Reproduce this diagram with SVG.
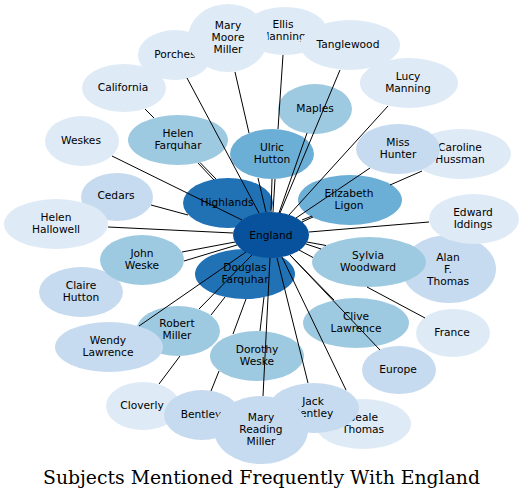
<svg xmlns="http://www.w3.org/2000/svg" width="523" height="499" viewBox="0 0 523 499">
<style>
.n text{font-family:"DejaVu Sans","Liberation Sans",sans-serif;font-size:10.67px;text-anchor:middle;fill:#000}
.c0{fill:#08519c}.c1{fill:#2171b5}.c2{fill:#6baed6}.c3{fill:#9ecae1}.c4{fill:#c6dbef}.c5{fill:#deebf7}
.e path{fill:none;stroke:#000;stroke-width:1}
.title{font-family:"DejaVu Serif","Liberation Serif",serif;font-size:19px;text-anchor:middle;fill:#000}
</style>
<rect width="523" height="499" fill="#fff"/>
<g class="n">
<g id="porches"><ellipse class="c5" cx="175" cy="55" rx="37" ry="25"/><text x="175" y="58">Porches</text></g>
<g id="ellis_manning"><ellipse class="c5" cx="285" cy="31" rx="42" ry="24"/><text x="283" y="28">Ellis</text><text x="283" y="40">Manning</text></g>
<g id="mary_moore_miller"><ellipse class="c5" cx="228" cy="38" rx="40" ry="34"/><text x="228" y="29">Mary</text><text x="228" y="41">Moore</text><text x="228" y="53">Miller</text></g>
<g id="tanglewood"><ellipse class="c5" cx="350" cy="45" rx="50" ry="25"/><text x="348" y="48">Tanglewood</text></g>
<g id="lucy_manning"><ellipse class="c5" cx="409" cy="83" rx="49" ry="25"/><text x="408" y="80">Lucy</text><text x="408" y="92">Manning</text></g>
<g id="california"><ellipse class="c5" cx="124" cy="88" rx="42" ry="24"/><text x="123" y="91">California</text></g>
<g id="maples"><ellipse class="c3" cx="315" cy="109" rx="37" ry="25"/><text x="315" y="112">Maples</text></g>
<g id="helen_farquhar"><ellipse class="c3" cx="178" cy="140" rx="50" ry="25"/><text x="178" y="137">Helen</text><text x="178" y="149">Farquhar</text></g>
<g id="weskes"><ellipse class="c5" cx="82" cy="141" rx="37" ry="25"/><text x="81" y="144">Weskes</text></g>
<g id="ulric_hutton"><ellipse class="c2" cx="272" cy="154" rx="42" ry="25"/><text x="272" y="151">Ulric</text><text x="272" y="163">Hutton</text></g>
<g id="caroline_hussman"><ellipse class="c5" cx="461" cy="154" rx="50" ry="25"/><text x="460" y="151">Caroline</text><text x="460" y="163">Hussman</text></g>
<g id="miss_hunter"><ellipse class="c4" cx="398" cy="149" rx="42" ry="25"/><text x="398" y="146">Miss</text><text x="398" y="158">Hunter</text></g>
<g id="cedars"><ellipse class="c4" cx="117" cy="197" rx="36" ry="24"/><text x="116" y="199">Cedars</text></g>
<g id="helen_hallowell"><ellipse class="c5" cx="56" cy="224" rx="52" ry="25"/><text x="56" y="221">Helen</text><text x="56" y="233">Hallowell</text></g>
<g id="highlands"><ellipse class="c1" cx="228" cy="203" rx="45" ry="25"/><text x="227" y="206">Highlands</text></g>
<g id="elizabeth_ligon"><ellipse class="c2" cx="350" cy="200" rx="52" ry="25"/><text x="349" y="197">Elizabeth</text><text x="349" y="209">Ligon</text></g>
<g id="alan_f_thomas"><ellipse class="c4" cx="449" cy="269" rx="47" ry="34"/><text x="448" y="261">Alan</text><text x="448" y="273">F.</text><text x="448" y="285">Thomas</text></g>
<g id="edward_iddings"><ellipse class="c5" cx="474" cy="219" rx="45" ry="25"/><text x="473" y="216">Edward</text><text x="473" y="228">Iddings</text></g>
<g id="douglas_farquhar"><ellipse class="c1" cx="245" cy="274" rx="50" ry="25"/><text x="245" y="271">Douglas</text><text x="245" y="283">Farquhar</text></g>
<g id="england"><ellipse class="c0" cx="271" cy="235" rx="38" ry="23"/><text x="271" y="239">England</text></g>
<g id="claire_hutton"><ellipse class="c4" cx="81" cy="292" rx="42" ry="25"/><text x="81" y="289">Claire</text><text x="81" y="301">Hutton</text></g>
<g id="john_weske"><ellipse class="c3" cx="142" cy="260" rx="42" ry="25"/><text x="142" y="257">John</text><text x="142" y="269">Weske</text></g>
<g id="sylvia_woodward"><ellipse class="c3" cx="369" cy="262" rx="57" ry="25"/><text x="368" y="259">Sylvia</text><text x="368" y="271">Woodward</text></g>
<g id="robert_miller"><ellipse class="c3" cx="178" cy="331" rx="42" ry="25"/><text x="177" y="327">Robert</text><text x="177" y="339">Miller</text></g>
<g id="wendy_lawrence"><ellipse class="c4" cx="109" cy="347" rx="54" ry="25"/><text x="108" y="344">Wendy</text><text x="108" y="356">Lawrence</text></g>
<g id="clive_lawrence"><ellipse class="c3" cx="356" cy="323" rx="53" ry="25"/><text x="356" y="320">Clive</text><text x="356" y="332">Lawrence</text></g>
<g id="france"><ellipse class="c5" cx="453" cy="333" rx="37" ry="24"/><text x="452" y="336">France</text></g>
<g id="dorothy_weske"><ellipse class="c3" cx="257" cy="356" rx="47" ry="25"/><text x="257" y="353">Dorothy</text><text x="257" y="365">Weske</text></g>
<g id="europe"><ellipse class="c4" cx="399" cy="370" rx="37" ry="24"/><text x="398" y="373">Europe</text></g>
<g id="cloverly"><ellipse class="c5" cx="143" cy="406" rx="37" ry="24"/><text x="142" y="409">Cloverly</text></g>
<g id="bentley"><ellipse class="c4" cx="202" cy="415" rx="38" ry="25"/><text x="201" y="418">Bentley</text></g>
<g id="beale_thomas"><ellipse class="c5" cx="363" cy="424" rx="48" ry="25"/><text x="363" y="421">Beale</text><text x="363" y="433">Thomas</text></g>
<g id="jack_bentley"><ellipse class="c4" cx="314" cy="408" rx="45" ry="25"/><text x="313" y="405">Jack</text><text x="313" y="417">Bentley</text></g>
<g id="mary_reading_miller"><ellipse class="c4" cx="261" cy="430" rx="47" ry="34"/><text x="261" y="421">Mary</text><text x="261" y="433">Reading</text><text x="261" y="445">Miller</text></g>
</g>
<g id="connectors" class="e">
<path d="M187,78 L259,213"/>
<path d="M235,72 L249,133 M258,178 L266,212"/>
<path d="M283,55 L278,129 M275,179 L273,212"/>
<path d="M272,179 L271,212"/>
<path d="M340,70 L280,213"/>
<path d="M307,133 L279,213"/>
<path d="M388,106 L289,215"/>
<path d="M370,168 L296,218"/>
<path d="M422,171 L390,185 M313,217 L302,222"/>
<path d="M312,216 L302,220"/>
<path d="M429,222 L309,232"/>
<path d="M321,249 L306,244"/>
<path d="M326,245.5 L307,242"/>
<path d="M425,318 L367,287 M313,257.5 L299,250"/>
<path d="M334,300 L290,255"/>
<path d="M380,350 L290,255"/>
<path d="M346,390 L282,257"/>
<path d="M308,383 L277,258"/>
<path d="M263,396 L270,258"/>
<path d="M260,331 L264,297"/>
<path d="M211,391 L219,371 M233,334 L246,299"/>
<path d="M159,384 L180,356 M211,315 L225,297"/>
<path d="M199,309 L252,255"/>
<path d="M139,326 L246,252"/>
<path d="M184,261 L237,245"/>
<path d="M182,252 L235,242"/>
<path d="M108,227 L233,233"/>
<path d="M151,205 L188,215"/>
<path d="M112,156 L242,220"/>
<path d="M200,162.5 L216,179"/>
<path d="M145,109 L154,118 M198,163 L214,180"/>
</g>
<text class="title" x="261.5" y="484" textLength="437" lengthAdjust="spacingAndGlyphs">Subjects Mentioned Frequently With England</text>
</svg>
